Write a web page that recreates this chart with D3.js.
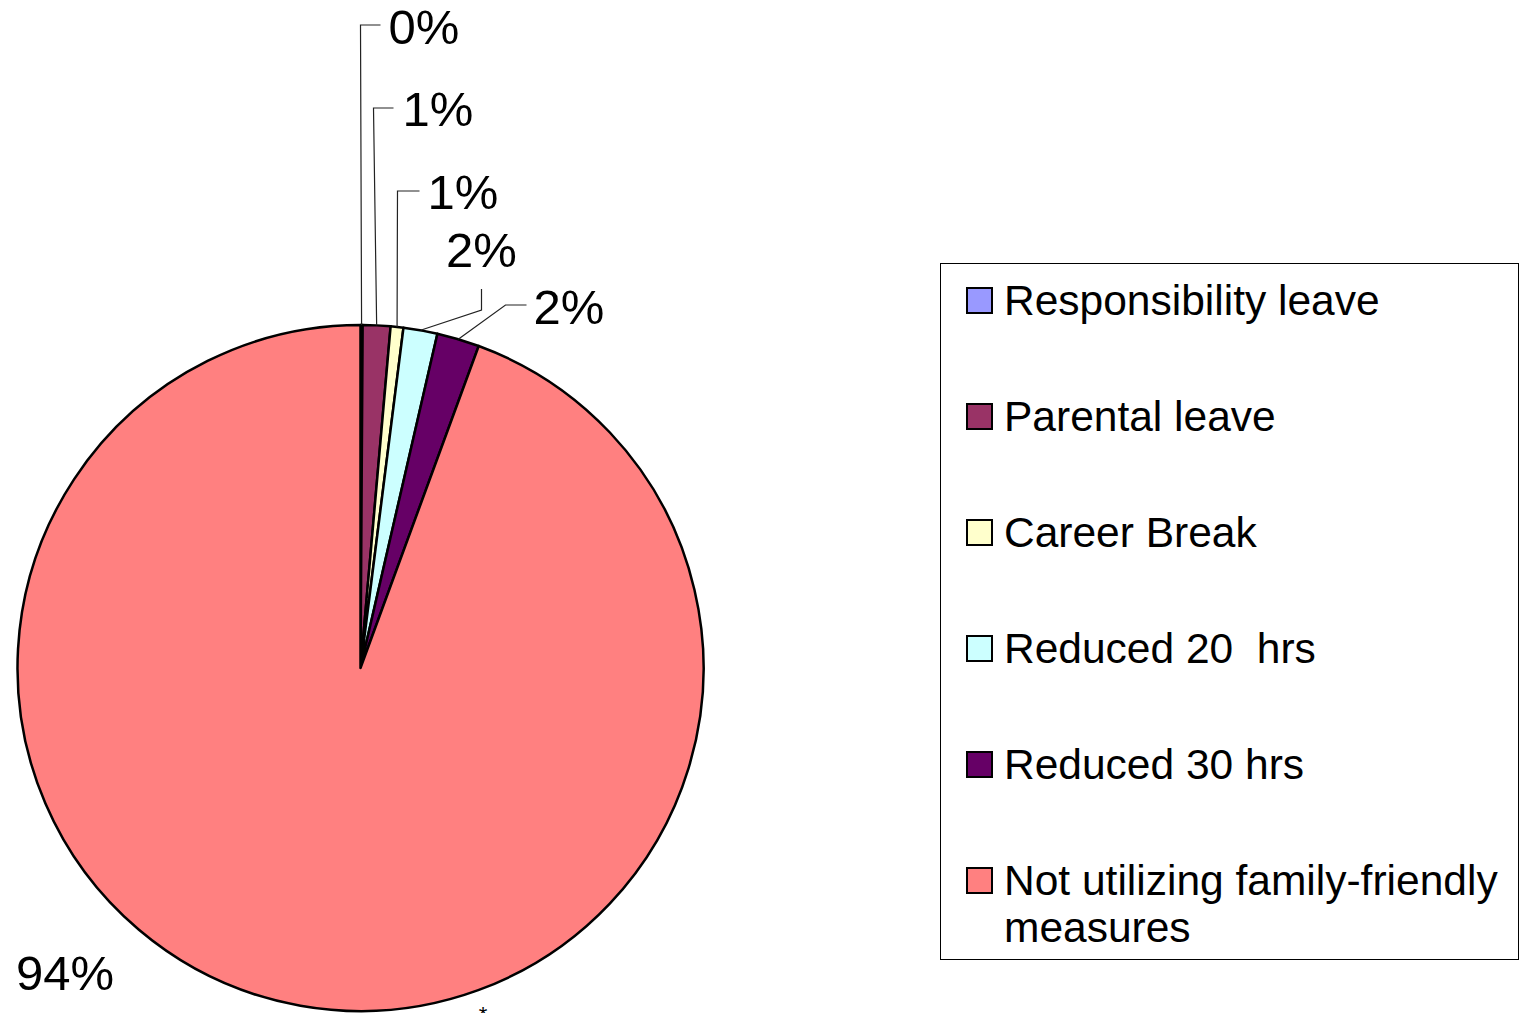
<!DOCTYPE html>
<html>
<head>
<meta charset="utf-8">
<script src="https://cdn.jsdelivr.net/npm/d3@7"></script>
<style>
  body { margin: 0; background: #fff; }
  svg { display: block; font-family: "Liberation Sans", Arial, sans-serif; }
  text { white-space: pre; }
</style>
</head>
<body>
<div id="chart"></div>
<script>
// data (percent of staff)
const categories = ["Responsibility leave", "Parental leave", "Career Break",
                    "Reduced 20  hrs", "Reduced 30 hrs", "Not utilizing family-friendly measures"];
const values = [0.1, 1.3, 0.6, 1.6, 2.0, 94.4];
const labels = ["0%", "1%", "1%", "2%", "2%", "94%"];
const colors = ["#9999FF", "#993366", "#FFFFCC", "#CCFFFF", "#660066", "#FF8080"];

let width = 1522, height = 1013;
let cx = 360.5, cy = 668, radius = 343;

let svg = d3.select("#chart").append("svg")
  .attr("width", width).attr("height", height);

let pie = d3.pie().sort(null).value(d => d.value);
let arc = d3.arc().innerRadius(0).outerRadius(radius);

let rows = categories.map((c, i) => ({name: c, value: values[i], label: labels[i], color: colors[i]}));
let arcs = pie(rows);

let g = svg.append("g").attr("transform", `translate(${cx},${cy})`);

g.selectAll("path.slice")
  .data(arcs)
  .enter().append("path")
  .attr("class", "slice")
  .attr("d", arc)
  .attr("fill", d => d.data.color)
  .attr("stroke", "#000")
  .attr("stroke-width", 2.5)
  .attr("stroke-linejoin", "round");

// point on the rim at the slice's middle angle
function rim(d) {
  let a = (d.startAngle + d.endAngle) / 2;
  return [Math.sin(a) * radius, -Math.cos(a) * radius];
}

// leader line bends (relative to pie centre) and label anchors, small slices only
const leaderBends = [
  [[0, -643], [20, -643]],
  [[13, -560], [33, -560]],
  [[37, -477], [59, -477]],
  [[121, -358], [121, -379]],
  [[145, -363], [166, -363]]
];
const labelPos = [
  {x: 28, y: -641, anchor: "start"},
  {x: 42, y: -559, anchor: "start"},
  {x: 67, y: -476, anchor: "start"},
  {x: 121, y: -418, anchor: "middle"},
  {x: 173, y: -361, anchor: "start"}
];

let line = d3.line();
arcs.slice(0, 5).forEach((d, i) => {
  let pts = [rim(d)].concat(leaderBends[i]);
  g.append("path")
    .attr("d", line(pts))
    .attr("fill", "none")
    .attr("stroke", "#222")
    .attr("stroke-width", 1.2);
  g.append("text")
    .attr("x", labelPos[i].x)
    .attr("y", labelPos[i].y)
    .attr("dy", "0.35em")
    .attr("text-anchor", labelPos[i].anchor)
    .attr("font-size", 49)
    .text(d.data.label);
});

// big slice label sits bottom-left
g.append("text")
  .attr("x", 16 - cx)
  .attr("y", 990 - cy)
  .attr("font-size", 49)
  .text(arcs[5].data.label);

// stray asterisk at the very bottom
svg.append("text")
  .attr("x", 483).attr("y", 1022)
  .attr("text-anchor", "middle")
  .attr("font-size", 22)
  .text("*");

// legend
let legend = svg.append("g").attr("transform", "translate(940,263)");
legend.append("rect")
  .attr("x", 0.5).attr("y", 0.5)
  .attr("width", 578).attr("height", 696)
  .attr("fill", "#fff")
  .attr("stroke", "#000")
  .attr("stroke-width", 1);

let item = legend.selectAll("g.item")
  .data(rows)
  .enter().append("g")
  .attr("class", "item")
  .attr("transform", (d, i) => `translate(0,${37 + i * 116})`);

item.append("rect")
  .attr("x", 27).attr("y", -12)
  .attr("width", 25).attr("height", 25)
  .attr("fill", d => d.color)
  .attr("stroke", "#000")
  .attr("stroke-width", 2);

item.append("text")
  .attr("x", 64)
  .attr("font-size", 42.5)
  .each(function(d) {
    let t = d3.select(this);
    let parts = d.name === "Not utilizing family-friendly measures"
      ? ["Not utilizing family-friendly", "measures"] : [d.name];
    parts.forEach((p, k) => {
      t.append("tspan").attr("x", 64).attr("dy", k === 0 ? "0.35em" : "1.12em").text(p);
    });
  });
</script>
</body>
</html>
